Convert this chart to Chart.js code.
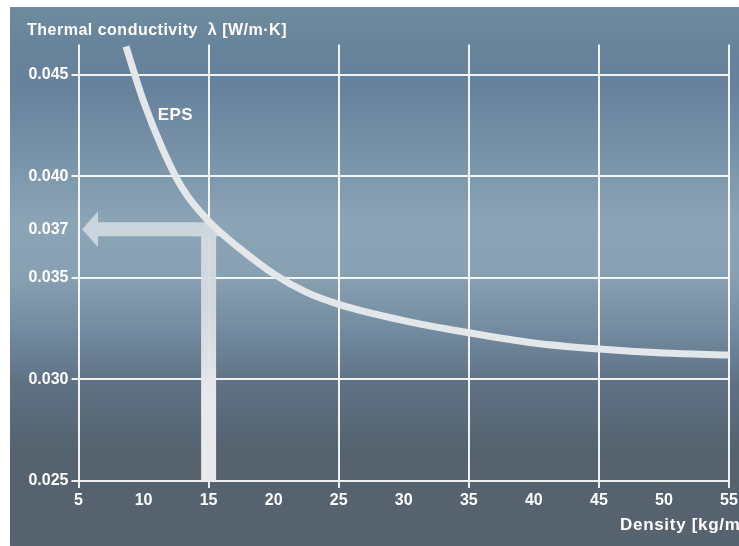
<!DOCTYPE html>
<html>
<head>
<meta charset="utf-8">
<script src="https://cdn.jsdelivr.net/npm/chart.js@4.4.1/dist/chart.umd.min.js"></script>
<style>
  html, body { margin: 0; padding: 0; background: #fff; overflow: hidden; width: 739px; height: 546px; }
  #chart { position: absolute; left: 10px; top: 7px; }
</style>
</head>
<body>
<canvas id="chart" width="745" height="539"></canvas>
<script>
// EPS curve
let density = [8.65, 10, 11.5, 13, 15, 17.5, 20, 22.5, 25, 30, 35, 40, 45, 50, 55];
let lambda = [0.0464, 0.0437, 0.0413, 0.0394, 0.0378, 0.0364, 0.0352, 0.0343, 0.0337, 0.0329, 0.0323, 0.0318, 0.0315, 0.0313, 0.0312];

let xTicks = [5, 10, 15, 20, 25, 30, 35, 40, 45, 50, 55];
let xGrid = [5, 15, 25, 35, 45, 55];
// the 0.037 mark sits a little above its linear place in the picture
let yTicks = [0.025, 0.030, 0.035, 0.0374, 0.040, 0.045];
let yTickLabels = ["0.025", "0.030", "0.035", "0.037", "0.040", "0.045"];
let yGrid = [0.025, 0.030, 0.035, 0.040, 0.045];

// reading example: 15 kg/m³ -> 0.037 W/m·K
let readDensity = 15;
let readLambda = 0.0374;
let arrowStartX = 6.5;

const FONT = "'Liberation Sans', Arial, sans-serif";
const arrowColor = "rgba(206,215,221,0.95)";

function makeHead(w, h, draw) {
    const c = document.createElement("canvas");
    c.width = w;
    c.height = h;
    const g = c.getContext("2d");
    g.fillStyle = arrowColor;
    g.beginPath();
    draw(g);
    g.closePath();
    g.fill();
    return c;
}

// up arrow head: apex 11px above the level, base 7px below
const upHead = makeHead(34, 40, g => {
    g.moveTo(17, 9);
    g.lineTo(34, 27);
    g.lineTo(0, 27);
});
// left arrow head: base sits on the point
const leftHead = makeHead(36, 36, g => {
    g.moveTo(2, 18);
    g.lineTo(18, 0);
    g.lineTo(18, 36);
});

const bgPlugin = {
    id: "bg",
    beforeDraw(chart) {
        const ctx = chart.ctx;
        const g = ctx.createLinearGradient(0, 0, 0, chart.height);
        g.addColorStop(0, "#6e8b9e");
        g.addColorStop(0.07, "#68849b");
        g.addColorStop(0.15, "#66829c");
        g.addColorStop(0.3, "#7c96ab");
        g.addColorStop(0.4, "#8ba4b6");
        g.addColorStop(0.5, "#87a1b2");
        g.addColorStop(0.6, "#728ba0");
        g.addColorStop(0.7, "#5e7183");
        g.addColorStop(0.82, "#55636f");
        g.addColorStop(1, "#57636f");
        ctx.save();
        ctx.fillStyle = g;
        ctx.fillRect(0, 0, chart.width, chart.height);
        ctx.restore();
    }
};

const textPlugin = {
    id: "texts",
    afterDraw(chart) {
        const ctx = chart.ctx;
        const xs = chart.scales.x, ys = chart.scales.y;
        ctx.save();
        ctx.fillStyle = "#ffffff";
        ctx.textBaseline = "alphabetic";
        ctx.font = "bold 16px " + FONT;
        ctx.letterSpacing = "0.5px";
        ctx.textAlign = "left";
        ctx.fillText("Thermal conductivity  λ [W/m·K]", 17, 28);
        ctx.font = "bold 17px " + FONT;
        ctx.letterSpacing = "0.7px";
        ctx.fillText("Density [kg/m³]", 610, 523);
        ctx.letterSpacing = "0.5px";
        ctx.font = "bold 17px " + FONT;
        ctx.textAlign = "center";
        ctx.fillText("EPS", xs.getPixelForValue(12.45), ys.getPixelForValue(0.0428));
        ctx.restore();
    }
};

const ctx = document.getElementById("chart").getContext("2d");

let chart = new Chart(ctx, {
    type: "scatter",
    data: {
        datasets: [
            {
                label: "EPS",
                data: density.map((d, i) => ({ x: d, y: lambda[i] })),
                showLine: true,
                borderColor: "#e4e7e9",
                borderWidth: 7,
                borderCapStyle: "butt",
                cubicInterpolationMode: "monotone",
                pointRadius: 0,
                order: 0
            },
            {
                label: "up",
                data: [{ x: readDensity, y: 0.025 }, { x: readDensity, y: readLambda }],
                showLine: true,
                borderColor: function (c) {
                    const a = c.chart.chartArea;
                    if (!a) return arrowColor;
                    const g = c.chart.ctx.createLinearGradient(0, a.top, 0, a.bottom);
                    g.addColorStop(0, "rgba(206,215,221,0.95)");
                    g.addColorStop(0.6, "rgba(214,220,224,0.95)");
                    g.addColorStop(0.8, "rgba(232,233,234,1)");
                    g.addColorStop(1, "rgba(232,233,234,1)");
                    return g;
                },
                borderWidth: 15,
                borderCapStyle: "butt",
                pointRadius: 0,
                order: 2
            },
            {
                label: "left",
                data: [{ x: readDensity, y: readLambda }, { x: arrowStartX, y: readLambda }],
                showLine: true,
                borderColor: arrowColor,
                borderWidth: 14,
                borderCapStyle: "butt",
                pointRadius: 0,
                order: 2
            },
            {
                label: "heads",
                data: [{ x: readDensity, y: readLambda }, { x: arrowStartX, y: readLambda }],
                pointStyle: [upHead, leftHead],
                pointRadius: 5,
                order: 1
            }
        ]
    },
    options: {
        responsive: false,
        animation: false,
        events: [],
        layout: { padding: { top: 37.5, left: 0, right: 26, bottom: 0 } },
        plugins: {
            legend: { display: false },
            tooltip: { enabled: false }
        },
        scales: {
            x: {
                type: "linear",
                min: 5,
                max: 55,
                afterBuildTicks: s => { s.ticks = xTicks.map(v => ({ value: v })); },
                afterFit: s => { s.height = 65; },
                border: { display: false },
                grid: {
                    color: c => xGrid.includes(c.tick.value) ? "rgba(255,255,255,0.9)" : "rgba(0,0,0,0)",
                    lineWidth: 2,
                    tickLength: 7
                },
                ticks: {
                    color: "#ffffff",
                    font: { family: FONT, size: 16, weight: "bold" },
                    padding: 3,
                    maxRotation: 0,
                    autoSkip: false
                }
            },
            y: {
                type: "linear",
                min: 0.025,
                max: 0.0465,
                afterBuildTicks: s => { s.ticks = yTicks.map(v => ({ value: v })); },
                afterFit: s => { s.width = 68.5; },
                border: { display: false },
                grid: {
                    color: c => yGrid.includes(c.tick.value) ? "rgba(255,255,255,0.9)" : "rgba(0,0,0,0)",
                    lineWidth: 2,
                    tickLength: 7
                },
                ticks: {
                    color: "#ffffff",
                    font: { family: FONT, size: 16, weight: "bold" },
                    padding: 3,
                    autoSkip: false,
                    callback: (v, i) => yTickLabels[i]
                }
            }
        }
    },
    plugins: [bgPlugin, textPlugin]
});
</script>
</body>
</html>
